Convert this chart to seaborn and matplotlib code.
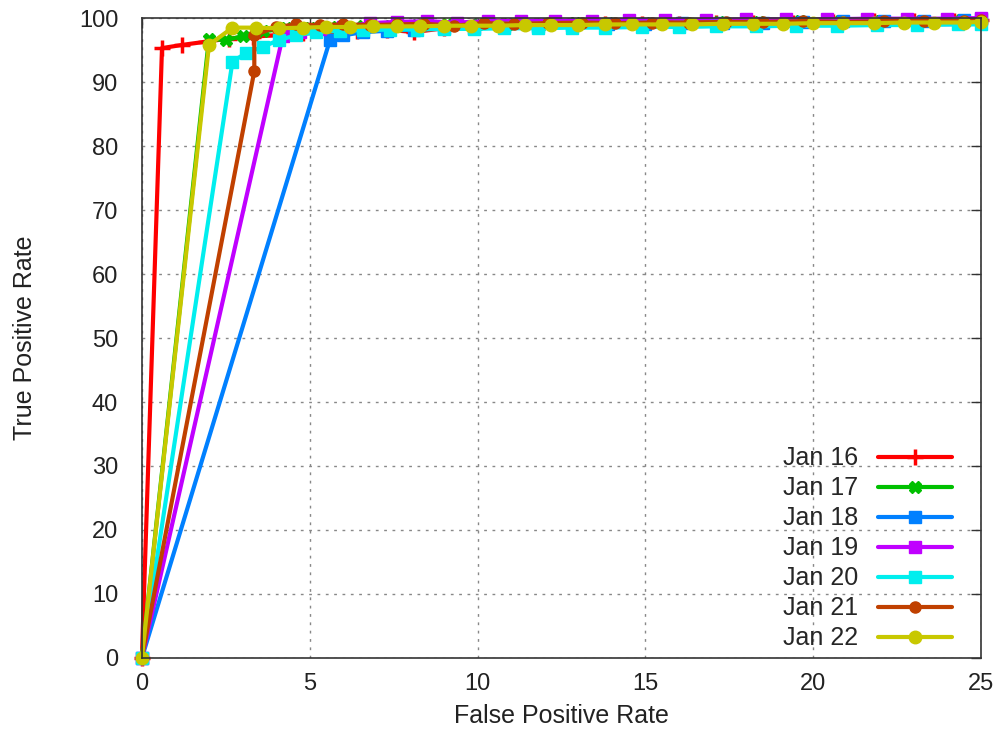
import pandas as pd
import matplotlib
matplotlib.use("Agg")
import matplotlib.pyplot as plt
import seaborn as sns

# ROC curves (FPR %, TPR %)
jan16_fpr = [0, 0.6, 1.2, 1.9, 2.6, 3.3, 4.0, 4.8, 5.6, 6.4, 7.3, 8.1, 9.0, 9.9, 10.8, 11.8, 12.8,
             13.8, 14.9, 16.0, 17.1, 18.2, 19.4, 20.6, 21.8, 23.0, 24.2, 25.0]
jan16_tpr = [0, 95.3, 95.8, 96.3, 96.8, 97.1, 97.3, 97.6, 97.8, 98.0, 98.2, 97.8, 98.4, 98.6, 98.7, 98.8, 98.9,
             99.0, 99.1, 99.1, 99.2, 99.3, 99.3, 99.4, 99.5, 99.5, 99.6, 99.7]

jan17_fpr = [0, 2.0, 2.5, 3.0, 3.6, 4.3, 5.0, 5.8, 6.6, 7.4, 8.2, 9.1, 10.0, 10.9, 11.9, 12.9, 13.9,
             15.0, 16.1, 17.2, 18.4, 19.6, 20.8, 22.0, 23.2, 24.4, 25.0]
jan17_tpr = [0, 96.8, 96.5, 97.2, 97.9, 98.4, 98.5, 98.6, 98.8, 98.7, 98.9, 99.0, 99.0, 99.1, 99.1, 99.2, 99.2,
             99.3, 99.3, 99.4, 99.4, 99.5, 99.5, 99.6, 99.6, 99.7, 99.7]

jan18_fpr = [0, 5.6, 6.0, 6.6, 7.3, 8.1, 9.0, 9.9, 10.8, 11.8, 12.8, 13.9, 15.0, 16.1, 17.3, 18.5,
             19.7, 20.9, 22.1, 23.3, 24.5, 25.0]
jan18_tpr = [0, 96.5, 97.3, 97.8, 98.0, 98.2, 98.4, 98.5, 98.7, 98.8, 98.9, 99.0, 99.1, 99.2, 99.2, 99.3,
             99.4, 99.5, 99.5, 99.6, 99.7, 99.8]

jan19_fpr = [0, 4.2, 4.7, 5.3, 6.0, 6.8, 7.6, 8.5, 9.4, 10.3, 11.3, 12.3, 13.4, 14.5, 15.6, 16.8,
             18.0, 19.2, 20.4, 21.6, 22.8, 24.0, 25.0]
jan19_tpr = [0, 97.2, 97.8, 98.3, 98.6, 99.2, 99.4, 99.5, 99.3, 99.5, 99.6, 99.6, 99.6, 99.7, 99.7, 99.7,
             99.8, 99.8, 99.8, 99.9, 99.9, 99.9, 100.0]

jan20_fpr = [0, 2.7, 3.1, 3.6, 4.1, 4.6, 5.2, 5.9, 6.6, 7.4, 8.2, 9.0, 9.9, 10.8, 11.8, 12.8, 13.8,
             14.9, 16.0, 17.1, 18.3, 19.5, 20.7, 21.9, 23.1, 24.3, 25.0]
jan20_tpr = [0, 93.2, 94.5, 95.5, 96.6, 97.3, 97.8, 98.0, 98.1, 98.2, 98.2, 98.3, 98.3, 98.4, 98.4, 98.5, 98.5,
             98.6, 98.6, 98.7, 98.7, 98.8, 98.8, 98.9, 98.9, 99.0, 99.0]

jan21_fpr = [0, 3.35, 3.35, 4.0, 4.6, 5.3, 6.0, 6.8, 7.6, 8.4, 9.3, 10.2, 11.1, 12.1, 13.1, 14.1,
             15.2, 16.3, 17.4, 18.5, 19.7, 20.9, 22.1, 23.3, 24.5, 25.0]
jan21_tpr = [0, 91.7, 97.3, 98.6, 99.0, 98.9, 99.0, 98.9, 99.0, 99.1, 98.8, 99.2, 99.1, 99.2, 99.3, 99.2,
             99.3, 99.3, 99.4, 99.4, 99.5, 99.4, 99.5, 99.6, 99.6, 99.7]

jan22_fpr = [0, 2.0, 2.7, 3.4, 4.1, 4.8, 5.5, 6.2, 6.9, 7.6, 8.3, 9.0, 9.8, 10.6, 11.4, 12.2, 13.0,
             13.8, 14.6, 15.5, 16.4, 17.3, 18.2, 19.1, 20.0, 20.9, 21.8, 22.7, 23.6, 24.5, 25.0]
jan22_tpr = [0, 95.8, 98.5, 98.5, 98.4, 98.5, 98.6, 98.6, 98.7, 98.7, 98.7, 98.8, 98.8, 98.8, 98.9, 98.9, 98.9,
             99.0, 99.0, 99.0, 99.0, 99.1, 99.1, 99.1, 99.2, 99.2, 99.2, 99.3, 99.3, 99.3, 99.4]

labels = ["Jan 16", "Jan 17", "Jan 18", "Jan 19", "Jan 20", "Jan 21", "Jan 22"]
fprs = [jan16_fpr, jan17_fpr, jan18_fpr, jan19_fpr, jan20_fpr, jan21_fpr, jan22_fpr]
tprs = [jan16_tpr, jan17_tpr, jan18_tpr, jan19_tpr, jan20_tpr, jan21_tpr, jan22_tpr]

colors = ["#ff0000", "#00c000", "#0080ff", "#c000ff", "#00eeee", "#c04000", "#c8c800"]
markers = ["+", "X", "s", "s", "s", "o", "o"]
msizes = [11, 9, 8, 8, 8, 8, 9]

sns.set_style("white")
plt.rcParams['font.family'] = ['Liberation Sans', 'DejaVu Sans']

fig = plt.figure(figsize=(9.99, 7.45), dpi=100)
ax = fig.add_axes([0.142, 0.1168, 0.840, 0.859])

for lab, x, y, c, m, ms in zip(labels, fprs, tprs, colors, markers, msizes):
    df = pd.DataFrame({"fpr": x, "tpr": y})
    sns.lineplot(data=df, x="fpr", y="tpr", ax=ax, sort=False, estimator=None,
                 color=c, marker=m, markersize=ms, markeredgewidth=2.5 if m == "+" else 1,
                 markeredgecolor=c, linewidth=3, label=lab, clip_on=False)

ax.set_xlim(0, 25)
ax.set_ylim(0, 100)
ax.set_xticks(range(0, 26, 5))
ax.set_yticks(range(0, 101, 10))
ax.grid(True, linestyle=(0, (2, 4)), color="#888888", linewidth=1)
for s in ax.spines.values():
    s.set_color("#333333")
    s.set_linewidth(1.2)
ax.tick_params(direction="in", length=7, width=1, top=True, right=True,
               labelsize=17, colors="#333333")
ax.tick_params(axis="y", pad=17)
ax.tick_params(axis="x", pad=11)
for t in ax.get_xticklabels() + ax.get_yticklabels():
    t.set_color("#222222")

ax.set_xlabel("False Positive Rate", fontsize=18, color="#222222", labelpad=6)
ax.set_ylabel("True Positive Rate", fontsize=18, color="#222222", labelpad=30)

leg = ax.legend(loc="lower right", frameon=False, markerfirst=False, fontsize=18,
                handlelength=2.95, handletextpad=0.8, labelspacing=0.24,
                borderpad=0, borderaxespad=0, bbox_to_anchor=(0.9654, 0.012))

fig.savefig("out.png", dpi=100)
